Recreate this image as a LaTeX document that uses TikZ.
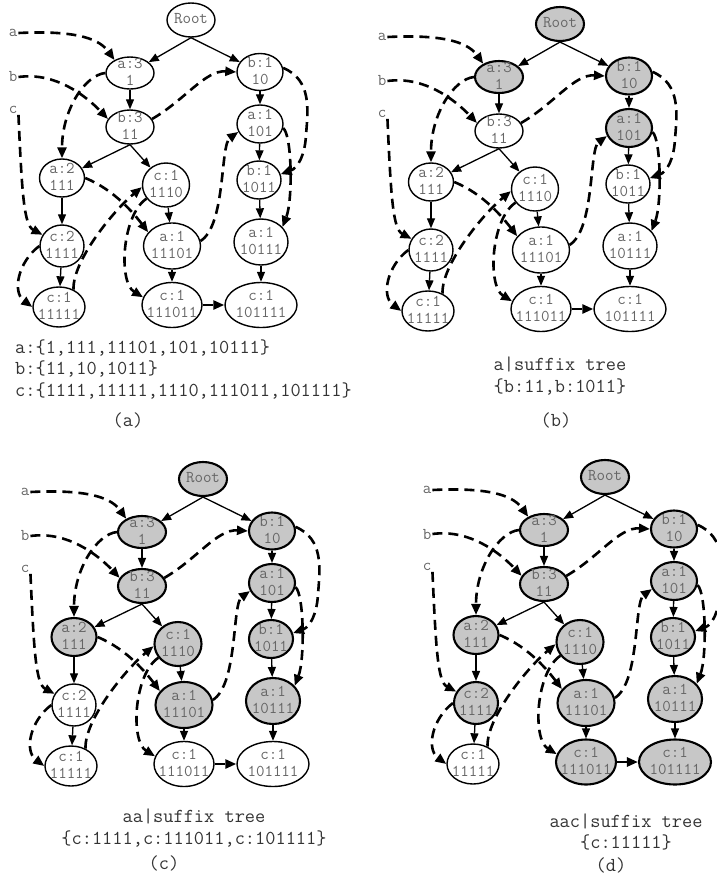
\documentclass[tikz,border=0pt]{standalone}
\usepackage{fontspec}
\usetikzlibrary{shapes.geometric,arrows.meta}

\definecolor{litgray}{gray}{0.78}
\definecolor{txtgray}{gray}{0.4}
\definecolor{capgray}{gray}{0.2}

\tikzset{
  trie/.style={ellipse, draw, line width=1.4pt, fill=white, inner sep=0pt},
  lit/.style={fill=litgray, line width=2.1pt},
  txt/.style={font=\ttfamily\fontsize{16.5}{17}\selectfont, text=txtgray, align=center, inner sep=0pt},
  tag/.style={font=\ttfamily\fontsize{16.5}{17}\selectfont, text=txtgray, inner sep=1pt},
  legend/.style={font=\ttfamily\fontsize{19.8}{21.5}\selectfont, text=capgray, align=center, inner sep=0pt},
  child/.style={line width=1.3pt, -{Triangle[length=10pt,width=8pt]}},
  link/.style={line width=2.6pt, dash pattern=on 10pt off 6pt, -{Triangle[length=11pt,width=9pt]}},
}

% one suffix tree with its sibling links
\newcommand{\trie}{%
  % nodes: name/x/y/width/height/text
  \foreach \n/\x/\y/\w/\h/\t in {
      R/191/20/48/34/Root,
      A3/130/73/48/32/{a:3\\1},
      B3/130/127/48/34/{b:3\\11},
      B1/260/72/46/37/{b:1\\10},
      A101/260/124/46/38/{a:1\\101},
      B1011/259/180/44/38/{b:1\\1011},
      A10111/261/242/54/46/{a:1\\10111},
      C101111/261/305/72/45/{c:1\\101111},
      A2/62/178/45/38/{a:2\\111},
      C1110/166/185/47/44/{c:1\\1110},
      C2/62/246/44/42/{c:2\\1111},
      A11101/172/246/57/46/{a:1\\11101},
      C11111/59/307/52/40/{c:1\\11111},
      C111011/172/305/60/45/{c:1\\111011}}
  {
    \node[trie, on\n/.try, minimum width=\w pt, minimum height=\h pt] (\n) at (\x,\y) {};
    \node[txt] (\n-t) at ([yshift=1pt]\n) {\t};
  }

  % tree edges
  \draw[child] (R.south) -- (A3);
  \draw[child] (R.south) -- (B1);
  \draw[child] (B3.south) -- (A2);
  \draw[child] (B3.south) -- (C1110);
  \foreach \a/\b in {A3/B3, B1/A101, A101/B1011, B1011/A10111, A10111/C101111,
                     A2/C2, C2/C11111, C1110/A11101, A11101/C111011}
    \draw[child] (\a) -- (\b);

  % heads of the symbol lists
  \node[tag] (la) at (13,33) {a};
  \node[tag] (lb) at (13,77) {b};
  \node[tag] (lc) at (13,110) {c};

  % sibling links (dashed)
  \draw[link] (la.east) .. controls (80,30) and (100,40) .. (A3.140);
  \draw[link] (lb.east) .. controls (55,72) and (85,95) .. (B3.160);
  \draw[link] (lc.south east) .. controls (22,195) and (24,225) .. (C2.150);
  \draw[link] (A3.west) .. controls (85,75) and (62,110) .. (A2.north);
  \draw[link] (B3.20) .. controls (185,100) and (205,70) .. (B1.west);
  \draw[link] (B1.10) .. controls (312,80) and (308,110) .. (306,135)
                      .. controls (305,155) and (298,168) .. (B1011.15);
  \draw[link] (A101.350) .. controls (292,135) and (293,200) .. (A10111.35);
  \draw[link] (A2.east) .. controls (115,190) and (135,215) .. (A11101.150);
  \draw[link] (C2.west) .. controls (18,262) and (12,292) .. (C11111.west);
  \draw[link] (C11111.50) .. controls (72,262) and (112,212) .. (C1110.185);
  \draw[link] (C1110.215) .. controls (122,215) and (118,282) .. (C111011.165);
  \draw[link] (A11101.10) .. controls (226,225) and (220,145) .. (A101.200);
  \draw[link] (C111011.east) -- (C101111.west);
}

\begin{document}
\begin{tikzpicture}[x=1pt,y=-1pt]
  \useasboundingbox (0,0) rectangle (717,876);

  % (a) nothing visited
  \begin{scope}[name prefix=pa-]
    \trie
  \end{scope}

  % (b) after a
  \begin{scope}[shift={(369,4)}, name prefix=pb-,
      onR/.style=lit, onA3/.style=lit, onB1/.style=lit, onA101/.style=lit]
    \trie
  \end{scope}

  % (c) after aa
  \begin{scope}[shift={(12,459)}, name prefix=pc-,
      onR/.style=lit, onA3/.style=lit, onB3/.style=lit, onB1/.style=lit,
      onA101/.style=lit, onB1011/.style=lit, onA10111/.style=lit,
      onA2/.style=lit, onC1110/.style=lit, onA11101/.style=lit]
    \trie
  \end{scope}

  % (d) after aac
  \begin{scope}[shift={(414,457)}, name prefix=pd-,
      onR/.style=lit, onA3/.style=lit, onB3/.style=lit, onB1/.style=lit,
      onA101/.style=lit, onB1011/.style=lit, onA10111/.style=lit,
      onC101111/.style=lit, onA2/.style=lit, onC1110/.style=lit,
      onC2/.style=lit, onA11101/.style=lit, onC111011/.style=lit]
    \trie
  \end{scope}

  % captions
  \node[legend, anchor=west, align=left] (capa) at (15,369)
    {a:\{1,111,11101,101,10111\}\\b:\{11,10,1011\}\\c:\{1111,11111,1110,111011,101111\}};
  \node[legend] (taga) at (128,420) {(a)};
  \node[legend] (capb) at (560,376) {a|suffix tree\\\{b:11,b:1011\}};
  \node[legend] (tagb) at (556,420) {(b)};
  \node[legend] (capc) at (194,828) {aa|suffix tree\\\{c:1111,c:111011,c:101111\}};
  \node[legend] (tagc) at (164,863) {(c)};
  \node[legend] (capd) at (626,832) {aac|suffix tree\\\{c:11111\}};
  \node[legend] (tagd) at (611,865) {(d)};
\end{tikzpicture}
\end{document}
